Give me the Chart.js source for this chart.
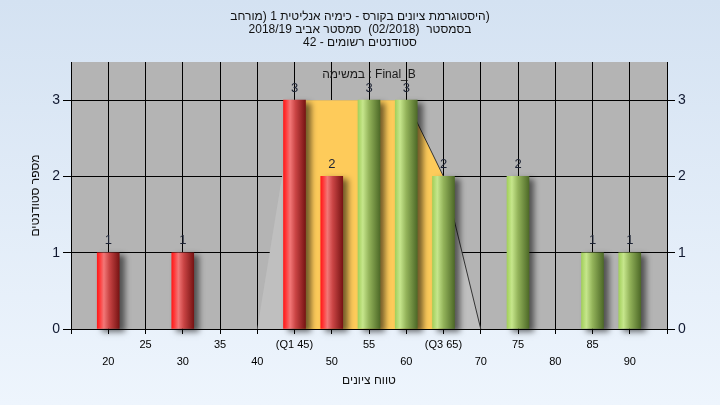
<!DOCTYPE html>
<html><head><meta charset="utf-8">
<script src="https://cdn.jsdelivr.net/npm/chart.js@4"></script>
<style>html,body{margin:0;padding:0;background:#e6eff9;}#wrap{width:720px;height:405px;position:relative;}</style>
</head><body><div id="wrap"><canvas id="c"></canvas></div>
<script>
// ---- data ----
const grades = [20,30,45,50,55,60,65,75,85,90];
const counts = [1,1,3,2,3,3,2,2,1,1];
const xTickValues = [20,25,30,35,40,45,50,55,60,65,70,75,80,85,90];
const xTickLabels = ['20','25','30','35','40','(Q1 45)','50','55','60','(Q3 65)','70','75','80','85','90'];
const spreadX = [40,45,60,65,70];
const spreadY = [0,3,3,2,0];
const iqrX = [45,45,60,65,65];
const iqrY = [0,3,3,2,0];
const edgeX = [60,65,70];
const edgeY = [3,2,0];
const passGrade = 55;
const titleLines = ['היסטוגרמת ציונים בקורס - כימיה אנליטית 1 (מורחב)','בסמסטר  (02/2018)  סמסטר אביב 2018/19','סטודנטים רשומים - 42'];
const legendText = 'במשימה : Final_B';
const xTitle = 'טווח ציונים';
const yTitle = 'מספר סטודנטים';

const FONT = "'Liberation Sans','DejaVu Sans',Arial,sans-serif";
Chart.defaults.font.family = FONT;

// the reference lays text out left-to-right without bracket pairing:
// a trailing ')' is isolated so it stays at the right end, as in the original picture
const legacyBidi = s => '\u200E' + s.replace(/\)$/, '\u2066)\u2069') + '\u200E';
const pts = (xs, ys) => xs.map((x, i) => ({x, y: ys[i]}));

const bgPlugin = {
  id: 'bg',
  beforeDraw(chart) {
    const {ctx, width, height, chartArea: a} = chart;
    ctx.save();
    const g = ctx.createLinearGradient(0, 0, 0, height);
    g.addColorStop(0, '#d4e2f2'); g.addColorStop(1, '#eef5fd');
    ctx.fillStyle = g; ctx.fillRect(0, 0, width, height);
    ctx.fillStyle = '#b4b4b4';
    ctx.fillRect(a.left, a.top, a.right - a.left, a.bottom - a.top);
    ctx.restore();
  }
};
const shadowPlugin = {
  id: 'shadow',
  beforeDatasetDraw(chart, args) {
    if (args.meta.type !== 'bar') return;
    const c = chart.ctx; c.save();
    c.shadowColor = 'rgba(0,0,0,0.55)'; c.shadowBlur = 6; c.shadowOffsetX = 5; c.shadowOffsetY = 3;
  },
  afterDatasetDraw(chart, args) { if (args.meta.type === 'bar') chart.ctx.restore(); }
};
const textPlugin = {
  id: 'texts',
  afterDatasetsDraw(chart) {
    const {ctx, chartArea: a, width} = chart;
    const mid = (a.left + a.right) / 2;
    ctx.save();
    ctx.direction = 'ltr';
    ctx.textAlign = 'center'; ctx.textBaseline = 'middle';
    ctx.font = '13px ' + FONT; ctx.fillStyle = '#1c2233';
    chart.getDatasetMeta(3).data.forEach((el, i) => {
      ctx.fillText(String(counts[i]), el.x, el.y - 12);
    });
    ctx.font = '12px ' + FONT; ctx.fillStyle = '#1a1a1a';
    ctx.fillText(legacyBidi(legendText), mid, 75);
    ctx.fillStyle = '#111';
    titleLines.forEach((t, i) => ctx.fillText(legacyBidi(t), width / 2, 17 + i * 13));
    ctx.fillText(legacyBidi(xTitle), mid, 381);
    ctx.restore();
  }
};

function barGradient(c) {
  const chart = c.chart, xs = chart.scales.x;
  const g = c.raw ? c.raw.x : 0;
  const solid = g < passGrade ? '#d43a3a' : '#93b35a';
  if (c.type !== 'data' || !xs) return solid;
  const cx = xs.getPixelForValue(g), h = 11;
  if (!isFinite(cx)) return solid;
  const gr = chart.ctx.createLinearGradient(cx - h, 0, cx + h, 0);
  if (g < passGrade) {
    gr.addColorStop(0, '#ff1a1a'); gr.addColorStop(0.12, '#ff3a3a');
    gr.addColorStop(0.3, '#f27777'); gr.addColorStop(0.55, '#c94444');
    gr.addColorStop(1, '#781414');
  } else {
    gr.addColorStop(0, '#a3d05c'); gr.addColorStop(0.22, '#c6e68c');
    gr.addColorStop(0.5, '#93b35a'); gr.addColorStop(1, '#4e6a28');
  }
  return gr;
}

new Chart(document.getElementById('c'), {
  type: 'bar',
  data: {
    datasets: [
      {type: 'line', data: pts(spreadX, spreadY), backgroundColor: '#bfbfbf', borderWidth: 0, pointRadius: 0, fill: 'origin', order: 4},
      {type: 'line', data: pts(iqrX, iqrY), backgroundColor: '#fecb5a', borderWidth: 0, pointRadius: 0, fill: 'origin', order: 3},
      {type: 'line', data: pts(edgeX, edgeY), borderColor: '#333333', borderWidth: 1, pointRadius: 0, fill: false, order: 2},
      {type: 'bar', data: pts(grades, counts), backgroundColor: barGradient, borderWidth: 0, barThickness: 22, clip: false, order: 1}
    ]
  },
  options: {
    responsive: true, maintainAspectRatio: false, animation: false, events: [],
    layout: {padding: {top: 62, left: 0, right: 0, bottom: 0}},
    plugins: {legend: {display: false}, tooltip: {enabled: false}, title: {display: false}},
    scales: {
      x: {
        type: 'linear', min: 15, max: 95, offset: false,
        ticks: {stepSize: 5, autoSkip: false, maxRotation: 0, color: '#000', padding: 3,
          font: {size: 11, lineHeight: 1.5},
          callback: v => { const i = xTickValues.indexOf(v); if (i < 0) return ['', ''];
            return v % 10 === 0 ? ['', xTickLabels[i]] : [xTickLabels[i], '']; }},
        grid: {color: '#000', lineWidth: 1, tickLength: 5, offset: false},
        border: {color: '#000'},
        afterFit: s => { s.height = 76; }
      },
      y: {
        position: 'left', min: 0, max: 3.5,
        ticks: {stepSize: 1, includeBounds: false, color: '#101830', font: {size: 14}, padding: 3},
        grid: {color: '#000', lineWidth: 1, tickLength: 8},
        border: {color: '#000'},
        title: {display: true, text: yTitle, color: '#111', font: {size: 12}, padding: {top: 28, bottom: 0}},
        afterFit: s => { s.width = 71; }
      },
      y2: {
        position: 'right', min: 0, max: 3.5,
        ticks: {stepSize: 1, includeBounds: false, color: '#101830', font: {size: 14}, padding: 3},
        grid: {drawOnChartArea: false, color: '#000', tickLength: 8},
        border: {color: '#000'},
        afterFit: s => { s.width = 53; }
      }
    }
  },
  plugins: [bgPlugin, shadowPlugin, textPlugin]
});
</script></body></html>
